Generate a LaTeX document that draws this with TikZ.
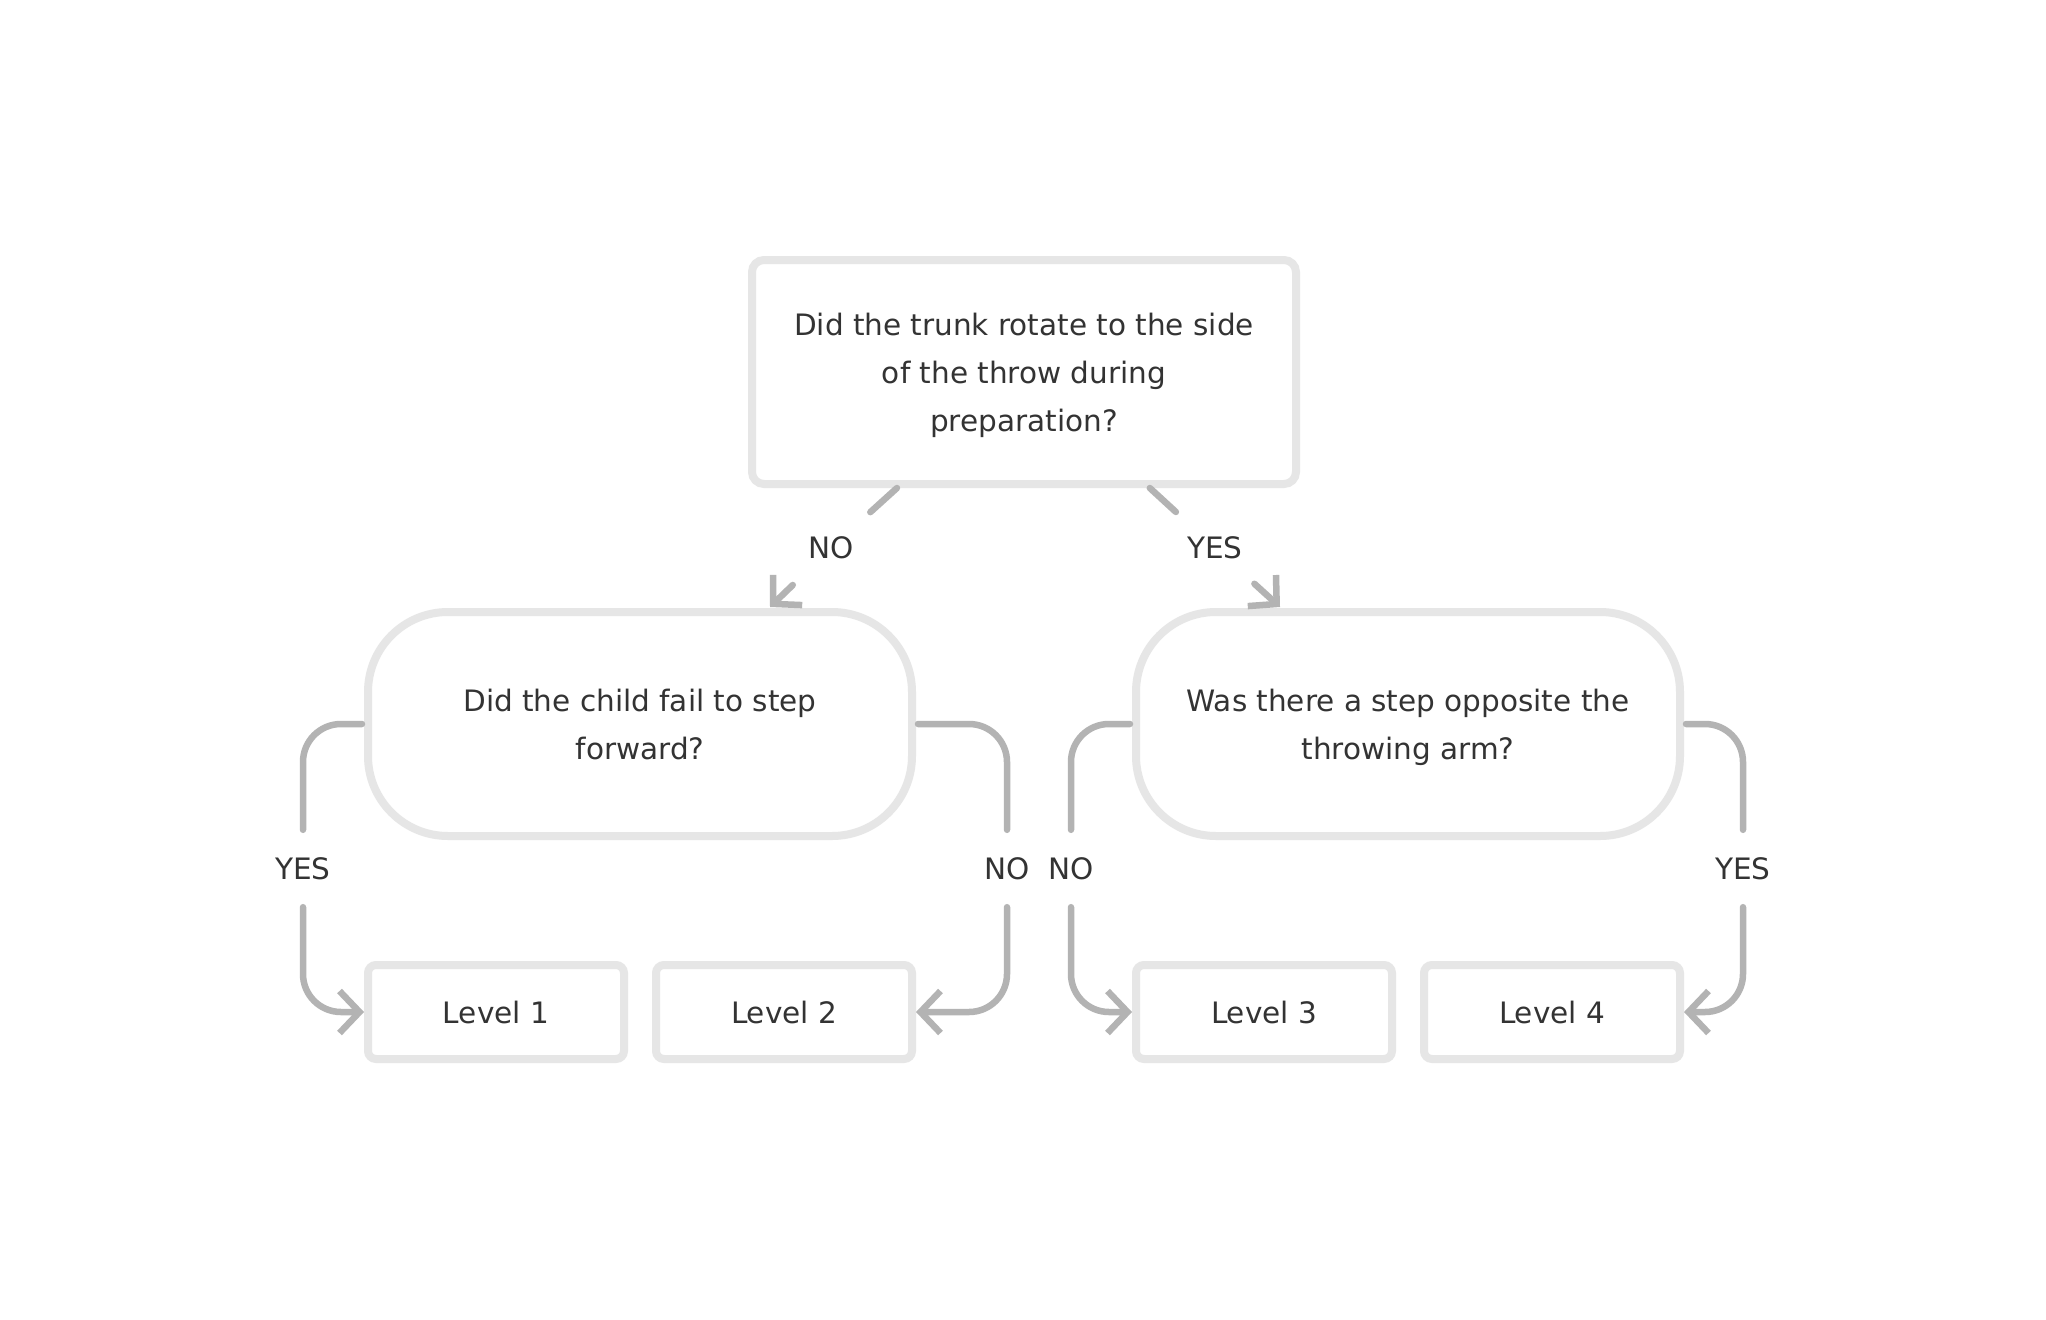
\documentclass[tikz,border=0pt]{standalone}
\usepackage{fontspec}
\setmainfont{DejaVu Sans}
\usetikzlibrary{arrows.meta,positioning}
\definecolor{edge}{HTML}{E6E6E6}
\definecolor{wire}{HTML}{B3B3B3}
\definecolor{ink}{HTML}{333333}
\tikzset{
	quest/.style={
		rectangle,
		draw=edge,
		line width=8pt,
		rounded corners=12pt,
		minimum width=544pt,
		minimum height=224pt,
		align=center,
		text=ink,
		text depth=0pt
	},
	questround/.style={
		quest,
		rounded corners=80pt
	},
	outcome/.style={
		rectangle,
		draw=edge,
		line width=8pt,
		rounded corners=8pt,
		minimum width=256pt,
		minimum height=94pt,
		text=ink
	},
	answer/.style={
		text=ink,
		minimum height=77pt,
		inner xsep=2pt
	},
	answerdiag/.style={
		circle,
		text=ink,
		minimum size=106pt
	},
	link/.style={
		draw=wire,
		line width=6.5pt,
		line cap=round,
		rounded corners=38pt
	}
}

\begin{document}
\begin{tikzpicture}[x=1pt,y=-1pt,>={Straight Barb[length=20pt,width=42pt]},font=\fontsize{29.5}{48}\selectfont]
	\useasboundingbox[fill=white] (0,0) rectangle (2046,1320);
	\node [quest] (q0) at (1024,372) {Did the trunk rotate to the side\\of the throw during\\preparation?};
	\node [questround] (q1) at (640,724) {Did the child fail to step\\forward?};
	\node [questround] (q2) at (1408,724) {Was there a step opposite the\\throwing arm?};
	\node [outcome] (l1) at (496,1012) {Level 1};
	\node [outcome] (l2) [right=24pt of l1] {Level 2};
	\node [outcome] (l3) at (1264,1012) {Level 3};
	\node [outcome] (l4) [right=24pt of l3] {Level 4};
	% answers
	\node [answerdiag] (no0) at (831,548) {NO};
	\node [answerdiag] (yes0) at (1215,548) {YES};
	\node [answer] (yes1) at (303,868.5) {YES};
	\node [answer] (no1) at (1007,868.5) {NO};
	\node [answer] (no2) at (1071,868.5) {NO};
	\node [answer] (yes2) at (1743,868.5) {YES};
	\draw [link] (q0) -- (no0);
	\draw [link,->] (no0) -- ([xshift=130pt,yshift=1pt]q1.north);
	\draw [link] (q0) -- (yes0);
	\draw [link,->] (yes0) -- ([xshift=-128pt,yshift=1pt]q2.north);
	\draw [link] ([xshift=-2pt]q1.west) -| (yes1.north);
	\draw [link,->] (yes1.south) |- (l1.west);
	\draw [link] ([xshift=2pt]q1.east) -| (no1.north);
	\draw [link,->] (no1.south) |- (l2.east);
	\draw [link] ([xshift=-2pt]q2.west) -| (no2.north);
	\draw [link,->] (no2.south) |- (l3.west);
	\draw [link] ([xshift=2pt]q2.east) -| (yes2.north);
	\draw [link,->] (yes2.south) |- (l4.east);
\end{tikzpicture}
\end{document}
